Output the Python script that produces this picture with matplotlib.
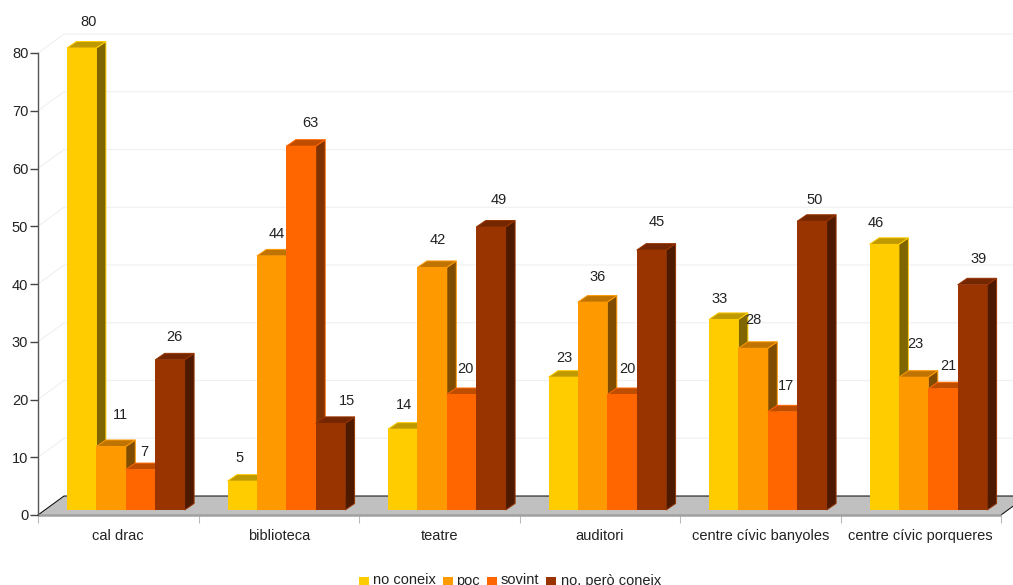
import matplotlib
matplotlib.use('Agg')
import matplotlib.pyplot as plt
from matplotlib.patches import Rectangle

plt.rcParams['font.family'] = ['Liberation Sans', 'DejaVu Sans']

categories = ['cal drac', 'biblioteca', 'teatre', 'auditori',
              'centre cívic banyoles', 'centre cívic porqueres']
series_names = ['no coneix', 'poc', 'sovint', 'no, però coneix']
no_coneix = [80, 5, 14, 23, 33, 46]
poc = [11, 44, 42, 36, 28, 23]
sovint = [7, 63, 20, 20, 17, 21]
no_pero = [26, 15, 49, 45, 50, 39]
y_ticks = [0, 10, 20, 30, 40, 50, 60, 70, 80]

series = [no_coneix, poc, sovint, no_pero]
colors = ['#FFCC00', '#FF9900', '#FF6600', '#993300']
tops = ['#BF9900', '#BF7300', '#BF4D00', '#732600']
sides = ['#806600', '#804D00', '#803300', '#4D1A00']

# value label nudges in pixels (x from bar centre, y above back edge of bar top)
label_dx = [[7, -3, 1, 1, -4, -8], [9, 5, 6, 5, 0, 2], [4, 9, 4, 5, 4, 5], [4, 17, 8, 5, 3, 6]]
label_dy = [[20, 17, 18, 13, 14, 15], [25, 15, 21, 19, 22, 27], [11, 17, 19, 19, 19, 16], [16, 16, 21, 22, 15, 19]]

W, H = 1013, 585
left, right, y0, y80 = 38, 1001, 515, 53
fig = plt.figure(figsize=(W / 100, H / 100), dpi=100)
ax = fig.add_axes([left / W, 1 - y0 / H, (right - left) / W, (y0 - y80) / H])
ax.set_xlim(0, 6)
ax.set_ylim(0, 80)
ax.patch.set_alpha(0)

px = 6 / (right - left)     # one pixel in x units
py = 80 / (y0 - y80)        # one pixel in y units
wall_dx, wall_dy = 26 * px, 19 * py
depth_x, depth_y = 9.5 * px, 6.5 * py
bar_w = 29.4 * px
bar_start = 29 * px
base = 5 * py
end = 6 + 26 * px

# back wall grid
for t in y_ticks[1:]:
    ax.plot([0, wall_dx, end], [t, t + wall_dy, t + wall_dy], color='#F0F0F0', lw=0.8,
            clip_on=False, zorder=1)

# floor
ax.fill([0, wall_dx, end, 6], [0, wall_dy, wall_dy, 0], color='#C0C0C0', lw=0, clip_on=False, zorder=2)
ax.plot([0, wall_dx, end], [0, wall_dy, wall_dy], color='black', lw=0.7, clip_on=False, zorder=2)
ax.plot([6, end], [0, wall_dy], color='black', lw=0.7, clip_on=False, zorder=2)
ax.plot([0, 6], [0, 0], color='#A0A0A0', lw=1.8, clip_on=False, zorder=2, solid_capstyle='butt')

# bars
for i in range(len(categories)):
    for s, vals in enumerate(series):
        x1 = i + bar_start + s * bar_w
        x2 = x1 + bar_w
        v = vals[i]
        z = 3 + i * 5 + s
        top = base + v
        ax.fill([x2, x2 + depth_x, x2 + depth_x, x2], [base, base + depth_y, top + depth_y, top],
                facecolor=sides[s], edgecolor=colors[s], lw=0.7, clip_on=False, zorder=z)
        ax.fill([x1, x1 + depth_x, x2 + depth_x, x2], [top, top + depth_y, top + depth_y, top],
                facecolor=tops[s], edgecolor=colors[s], lw=0.7, clip_on=False, zorder=z)
        ax.fill([x1, x2, x2, x1], [base, base, top, top], color=colors[s], lw=0, clip_on=False, zorder=z)

for i in range(len(categories)):
    for s, vals in enumerate(series):
        xc = i + bar_start + (s + 0.5) * bar_w
        ax.text(xc + label_dx[s][i] * px, base + vals[i] + depth_y + label_dy[s][i] * py, str(vals[i]),
                ha='center', va='center', fontsize=10.5, color='#222222', zorder=100)

# axes
for name in ['top', 'right', 'bottom']:
    ax.spines[name].set_visible(False)
ax.spines['left'].set_color('#555555')
ax.spines['left'].set_linewidth(1.0)
ax.set_yticks(y_ticks)
ax.tick_params(axis='y', length=5.5, width=1, color='#444444', labelsize=10.5, labelcolor='#222222', pad=1.5)
ax.set_xticks(range(7))
ax.set_xticklabels([])
ax.tick_params(axis='x', which='major', length=6, width=0.8, color='#BBBBBB', pad=2)
ax.set_xticks([i + 0.5 for i in range(6)], minor=True)
ax.set_xticklabels(categories, minor=True)
ax.tick_params(axis='x', which='minor', length=0, labelsize=10.5, labelcolor='#222222', pad=18)
for lab in ax.get_xticklabels(minor=True):
    lab.set_verticalalignment('baseline')

# legend, cut off by the bottom edge like the original
legend_x = [359, 443, 487, 546]
text_x = [373, 456, 501, 561]
for s, name in enumerate(series_names):
    fig.patches.append(Rectangle((legend_x[s] / W, 0), 9.5 / W, 8.5 / H, transform=fig.transFigure,
                                 facecolor=colors[s], edgecolor='none'))
    fig.text(text_x[s] / W, 1 - 584.5 / H, name, ha='left', va='baseline', fontsize=10.5, color='#222222')

fig.savefig('out.png', dpi=100)
